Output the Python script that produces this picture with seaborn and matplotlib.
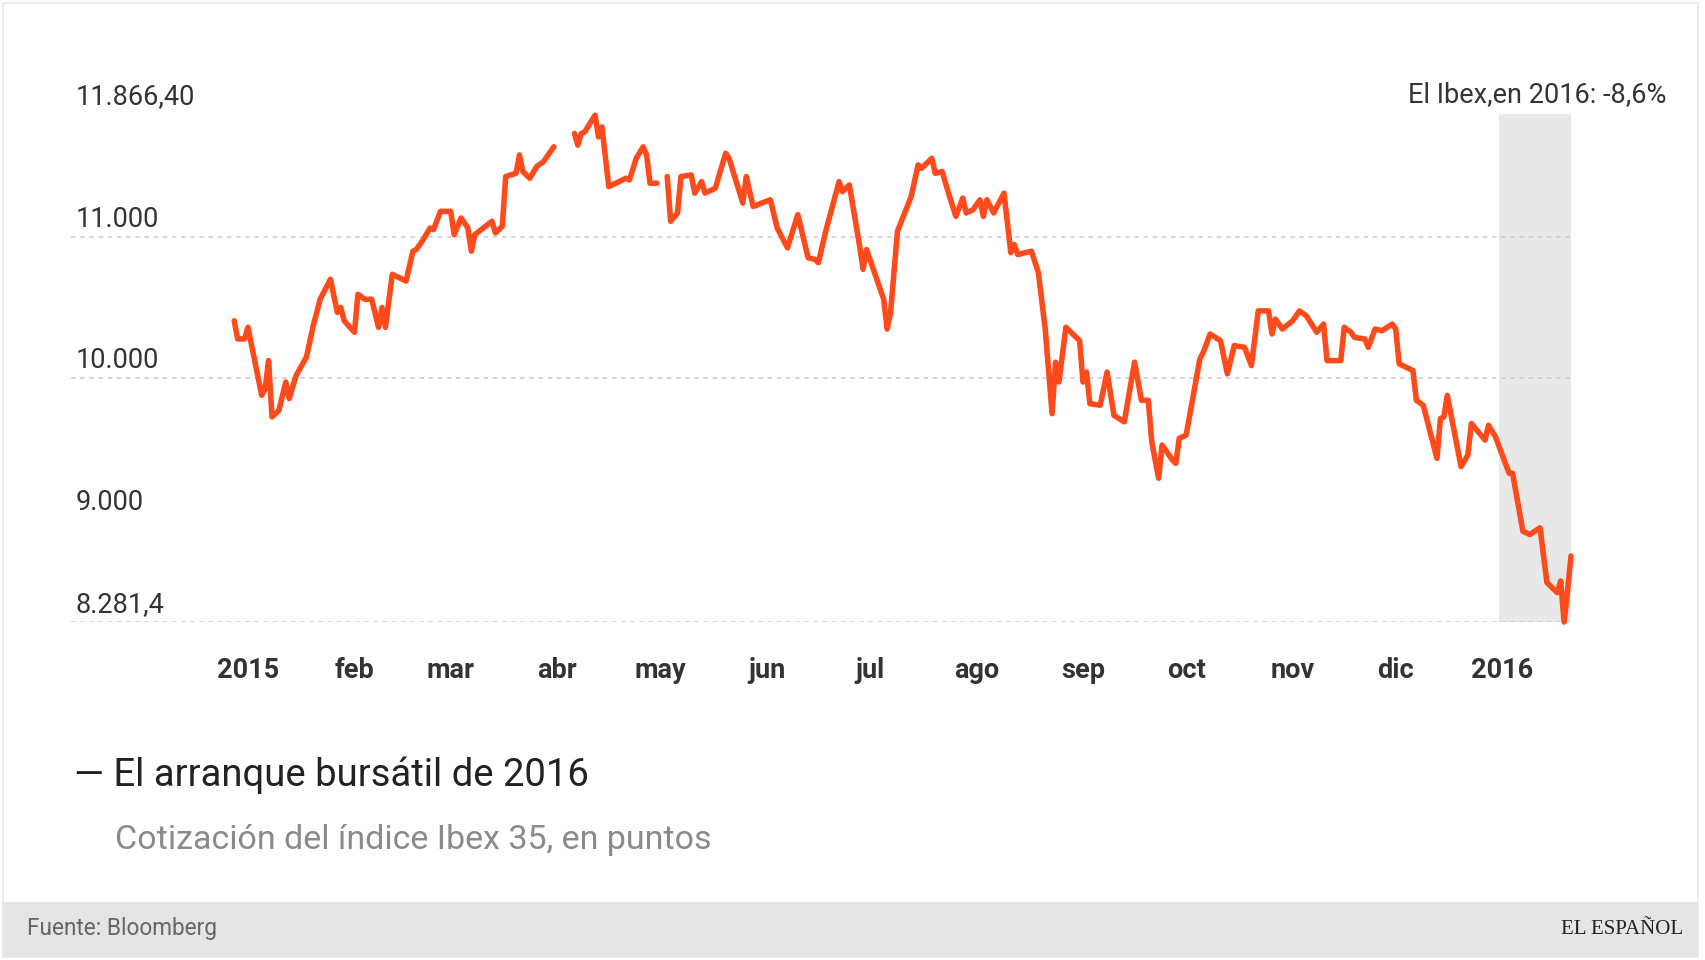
import numpy as np
import pandas as pd
import seaborn as sns
import matplotlib.pyplot as plt
from matplotlib.patches import Rectangle

# Ibex 35 closes; x = days since 1 Jan 2015, NaN = gap in the series
day_offset = [-4, -3, -1, 0, 4, 5, 6, 7, 9, 11, 12, 14, 17, 19, 21, 24, 26, 27, 28, 31,
              32, 34, 36, 38, 39, 40, 42, 46, 48, 49, 51, 53, 54, 56, 59, 60, 62, 64, 65, 66,
              71, 72, 74, 75, 78, 79, 80, 82, 84, 86, 89, 92, 95, 96, 97, 98, 101, 102, 103, 105,
              108, 110, 111, 113, 115, 116, 117, 119, 120, 122, 123, 125, 126, 129, 130, 132, 133, 136, 139, 140,
              144, 145, 147, 152, 154, 157, 160, 163, 165, 166, 168, 172, 173, 175, 178, 179, 180, 182, 185, 186,
              187, 189, 193, 195, 196, 199, 200, 202, 204, 206, 208, 209, 211, 213, 214, 215, 217, 220, 222, 223,
              224, 228, 230, 232, 234, 235, 236, 238, 242, 243, 244, 245, 248, 250, 252, 255, 258, 260, 262, 263,
              265, 266, 269, 270, 271, 273, 277, 278, 280, 283, 285, 287, 290, 292, 294, 297, 298, 299, 301, 304,
              306, 308, 311, 313, 314, 318, 319, 321, 322, 325, 326, 328, 330, 333, 334, 335, 339, 340, 342, 346,
              347, 348, 349, 353, 355, 356, 360, 361, 363, 365, 367, 368, 371, 373, 376, 378, 381, 382, 383, 384,
              385]
ibex_close = [10407, 10279, 10279, 10361, 9881, 9928, 10126, 9729, 9775, 9975, 9858, 10021, 10150, 10372, 10559, 10700, 10466, 10501, 10407, 10326,
              10594, 10559, 10559, 10361, 10501, 10361, 10735, 10688, 10898, 10910, 10980, 11062, 11050, 11179, 11179, 11015, 11133, 11062, 10898, 11015,
              11109, 11027, 11074, 11425, 11448, 11577, 11460, 11413, 11495, 11530, 11635, np.nan, 11729, 11647, 11729, 11740, 11858, 11705, 11775, 11354,
              11389, 11413, 11401, 11554, 11635, 11577, 11378, 11378, np.nan, 11425, 11109, 11168, 11425, 11436, 11308, 11389, 11308, 11343, 11589, 11554,
              11238, 11425, 11214, 11261, 11062, 10922, 11156, 10852, 10840, 10817, 11027, 11389, 11319, 11366, 10933, 10770, 10910, 10770, 10559, 10349,
              10466, 11039, 11284, 11507, 11483, 11554, 11448, 11460, 11296, 11144, 11273, 11168, 11191, 11261, 11144, 11261, 11168, 11308, 10887, 10945,
              10875, 10898, 10747, 10349, 9752, 10115, 9975, 10361, 10267, 9975, 10045, 9822, 9811, 10045, 9740, 9694, 10115, 9846, 9846, 9554,
              9296, 9530, 9425, 9401, 9577, 9600, 10138, 10185, 10314, 10267, 10033, 10232, 10220, 10091, 10477, 10477, 10314, 10419, 10349, 10407,
              10477, 10442, 10326, 10384, 10126, 10126, 10361, 10326, 10290, 10279, 10220, 10349, 10337, 10384, 10349, 10103, 10056, 9846, 9811, 9436,
              9717, 9728, 9881, 9378, 9460, 9682, 9565, 9670, 9589, 9460, 9331, 9331, 8922, 8899, 8946, 8559, 8489, 8571, 8281.4, 8501,
              8747]

month_ticks = ["2015-01-01", "2015-02-01", "2015-03-01", "2015-04-01", "2015-05-01", "2015-06-01", "2015-07-01",
               "2015-08-01", "2015-09-01", "2015-10-01", "2015-11-01", "2015-12-01", "2016-01-01"]
month_labels = ["2015", "feb", "mar", "abr", "may", "jun", "jul", "ago", "sep", "oct", "nov", "dic", "2016"]

y_marks = [11866.4, 11000, 10000, 9000, 8281.4]
y_texts = ["11.866,40", "11.000", "10.000", "9.000", "8.281,4"]
grid_values = [11000, 10000, 8281.4]

LINE = "#ff4a1c"
W, H = 1706, 960

df = pd.DataFrame({"day": day_offset, "close": ibex_close})
df["fecha"] = pd.Timestamp("2015-01-01") + pd.to_timedelta(df["day"], unit="D")
df["tramo"] = df["close"].isna().cumsum()
df = df.dropna()

sns.set_style("white")
plt.rcParams["font.family"] = ["Roboto", "DejaVu Sans"]

fig = plt.figure(figsize=(W / 100, H / 100), dpi=100)
fig.patch.set_facecolor("white")

# card frame + footer band
fig.add_artist(Rectangle((3 / W, 3 / H), 1695 / W, 954 / H, transform=fig.transFigure,
                         facecolor="white", edgecolor="#e9e9e9", lw=1.2, zorder=-5))
fig.add_artist(Rectangle((3 / W, 3 / H), 1695 / W, 55 / H, transform=fig.transFigure,
                         facecolor="#e5e5e5", edgecolor="none", zorder=-4))

ax = fig.add_axes([71 / W, 1 - 622 / H, 1500 / W, (622 - 114) / H])
ax.set_facecolor("none")

x0 = pd.Timestamp("2015-01-01") + pd.Timedelta(days=-51.5)
x1 = pd.Timestamp("2015-01-01") + pd.Timedelta(days=385)
ax.axvspan(pd.Timestamp("2015-12-31"), x1, color="#e8e8e8", lw=0, zorder=0)

for g in grid_values:
    ax.axhline(g, color="#cccccc", lw=1.1, dashes=(3, 3), zorder=1)

sns.lineplot(data=df, x="fecha", y="close", units="tramo", estimator=None,
             color=LINE, lw=4.0, ax=ax, zorder=3)
for ln in ax.lines:
    if ln.get_color() == LINE:
        ln.set_clip_on(False)
        ln.set_solid_joinstyle("round")

ax.set_xlim(x0, x1)
ax.set_ylim(8281.4, 11866.4)
sns.despine(ax=ax, left=True, bottom=True)
ax.set_xlabel("")
ax.set_ylabel("")
ax.set_yticks([])
ax.set_xticks(pd.to_datetime(month_ticks))
ax.set_xticklabels(month_labels, fontsize=19.5, fontweight="bold", color="#333333")
ax.tick_params(axis="x", length=0, pad=25)

for v, t in zip(y_marks, y_texts):
    ax.annotate(t, xy=(0, v), xycoords=ax.get_yaxis_transform(), xytext=(5, 10),
                textcoords="offset pixels", ha="left", va="baseline",
                fontsize=19.5, color="#333333", annotation_clip=False)

fig.text(1666 / W, 1 - 95 / H, "El Ibex,en 2016: -8,6%", ha="right", va="center",
         fontsize=19.5, color="#333333")

fig.text(74 / W, 1 - 775 / H, "— El arranque bursátil de 2016", ha="left", va="center",
         fontsize=27.5, color="#222222")
fig.text(115 / W, 1 - 840 / H, "Cotización del índice Ibex 35, en puntos", ha="left", va="center",
         fontsize=24.5, color="#8a8a8a")

fig.text(27 / W, 1 - 929 / H, "Fuente: Bloomberg", ha="left", va="center",
         fontsize=16.3, color="#666666")
fig.text(1683 / W, 1 - 929 / H, "EL ESPAÑOL", ha="right", va="center",
         fontsize=15, color="#222222", family=["Liberation Serif", "DejaVu Serif"])

fig.savefig("out.png", dpi=100)
